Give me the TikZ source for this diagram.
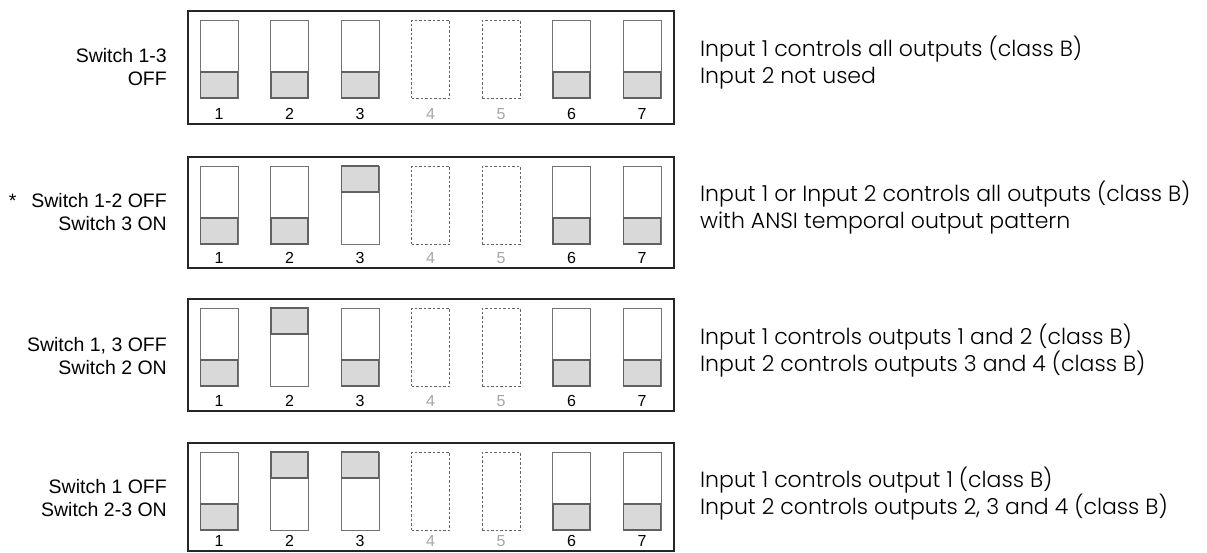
\documentclass[tikz,border=0pt]{standalone}
\usepackage{fontspec}
\setmainfont{Liberation Sans}
\newfontfamily\descfont{Poppins Light}
\usetikzlibrary{positioning}

\begin{document}
\begin{tikzpicture}[x=1pt, y=-1pt,
   panel/.style={draw=black!85, line width=1.3pt, minimum width=486pt, inner sep=0pt},
   slot/.style={draw=black!55, line width=0.7pt, minimum width=38pt, minimum height=78pt, inner sep=0pt},
   unused/.style={draw=black!60, line width=0.6pt, dash pattern=on 2.5pt off 2pt, minimum width=38pt, minimum height=78pt, inner sep=0pt},
   lever/.style={draw=black!62, fill=black!15, line width=1.1pt, minimum width=37pt, minimum height=26pt, inner sep=0pt},
   num/.style={font=\fontsize{16}{16}\selectfont},
   setting/.style={align=right, anchor=east, inner sep=0pt, font=\fontsize{19.5}{22.5}\selectfont},
   effect/.style={align=left, anchor=west, inner sep=0pt, font=\descfont\fontsize{22}{27}\selectfont}]

   \useasboundingbox (0,0) rectangle (1207,552);

   % one bank of switches per setting, 1 = lever down (OFF), -1 = lever up (ON)
   \foreach \r/\t/\h/\da/\db/\dc in {1/11/113/1/1/1, 2/157/111/1/1/-1, 3/299/112/1/-1/1, 4/443/108/1/-1/-1} {
      \node[panel, minimum height=\h pt, name=p\r] at (431,\t+\h/2) {};
      \foreach \i/\d in {1/\da, 2/\db, 3/\dc, 6/1, 7/1} {
         \node[slot, name=s\r\i] at (219+70.5*\i-70.5, \t+48) {};
         \node[lever, name=l\r\i] at (219+70.5*\i-70.5, \t+48+26*\d) {};
         \node[num, name=n\r\i] at (219+70.5*\i-70.5, \t+\h-10) {\i};
      }
      \foreach \i in {4,5} {
         \node[unused, name=s\r\i] at (219+70.5*\i-70.5, \t+48) {};
         \node[num, text=black!35, name=n\r\i] at (219+70.5*\i-70.5, \t+\h-10) {\i};
      }
   }

   % settings on the left
   \node[setting, name=t1] at (167,67) {Switch 1-3\\OFF};
   \node[setting, name=t2] at (167,212) {*\hspace{15pt}Switch 1-2 OFF\\Switch 3 ON};
   \node[setting, name=t3] at (167,356) {Switch 1, 3 OFF\\Switch 2 ON};
   \node[setting, name=t4] at (167,498) {Switch 1 OFF\\Switch 2-3 ON};

   % what each setting does
   \node[effect, name=e1] at (700,63) {Input 1 controls all outputs (class B)\\Input 2 not used};
   \node[effect, name=e2] at (700,208) {Input 1 or Input 2 controls all outputs (class B)\\with ANSI temporal output pattern};
   \node[effect, name=e3] at (700,351) {Input 1 controls outputs 1 and 2 (class B)\\Input 2 controls outputs 3 and 4 (class B)};
   \node[effect, name=e4] at (700,494) {Input 1 controls output 1 (class B)\\Input 2 controls outputs 2, 3 and 4 (class B)};
\end{tikzpicture}
\end{document}
